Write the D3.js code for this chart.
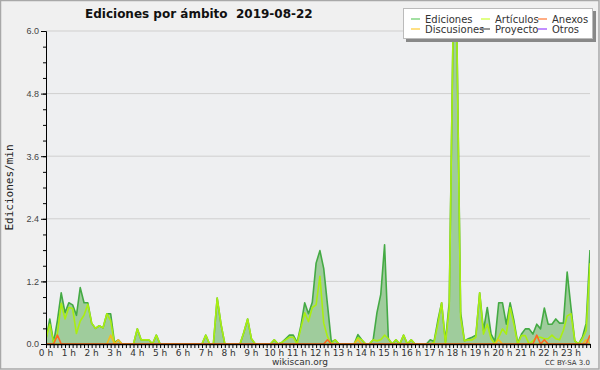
<!DOCTYPE html>
<html>
<head>
<meta charset="utf-8">
<script src="https://cdn.jsdelivr.net/npm/d3@7"></script>
<style>
  body { margin: 0; background: #fff; }
  svg { display: block; }
</style>
</head>
<body>
<div id="chart"></div>
<script>
// one value every 10 minutes, 00:00 .. 23:50 (144 points), edits per minute
const title = "Ediciones por ámbito  2019-08-22";
const hourLabels = d3.range(24).map(h => h + " h");
const yTicks = [0.0, 1.2, 2.4, 3.6, 4.8, 6.0];

const ediciones = [
  0.1, 0.48, 0.03, 0.45, 0.98, 0.6, 0.79, 0.75, 0.55, 1.08, 0.79, 0.79,
  0.4, 0.3, 0.35, 0.31, 0.58, 0.58, 0.03, 0.08, 0, 0, 0, 0,
  0.29, 0.08, 0.08, 0.08, 0, 0.17, 0, 0, 0, 0, 0, 0,
  0, 0, 0, 0, 0, 0, 0.17, 0, 0, 0.88, 0.38, 0,
  0, 0, 0, 0, 0.22, 0.48, 0.1, 0, 0, 0, 0, 0,
  0.08, 0, 0.03, 0.1, 0.17, 0.17, 0.03, 0.35, 0.79, 0.58, 0.8, 1.55,
  1.79, 1.45, 0.75, 0.04, 0.08, 0, 0, 0, 0, 0, 0.18, 0.08,
  0, 0, 0.08, 0.6, 0.95, 1.9, 0.1, 0, 0.08, 0, 0.17, 0,
  0.08, 0, 0, 0, 0, 0.08, 0.05, 0.45, 0.79, 0.05, 0.8, 6.0,
  6.0, 0.6, 0.06, 0.1, 0.13, 0.17, 0.98, 0.26, 0.7, 0.19, 0.05, 0.79,
  0.79, 0.38, 0.79, 0.45, 0.02, 0.19, 0.29, 0.29, 0.19, 0.38, 0.29, 0.69,
  0.38, 0.38, 0.48, 0.4, 0.4, 1.38, 0.7, 0.06, 0, 0.13, 0.4, 1.8
];
const articulos = [
  0.1, 0.38, 0.02, 0.2, 0.78, 0.48, 0.7, 0.68, 0.2, 0.44, 0.55, 0.76,
  0.4, 0.3, 0.35, 0.31, 0.58, 0.45, 0, 0, 0, 0, 0, 0,
  0.29, 0.08, 0.08, 0.08, 0, 0.17, 0, 0, 0, 0, 0, 0,
  0, 0, 0, 0, 0, 0, 0.17, 0, 0, 0.88, 0.38, 0,
  0, 0, 0, 0, 0.22, 0.48, 0.1, 0, 0, 0, 0, 0,
  0.08, 0, 0.03, 0.08, 0.13, 0.13, 0, 0.3, 0.6, 0.43, 0.7, 0.75,
  1.3, 0.4, 0.14, 0, 0.08, 0, 0, 0, 0, 0, 0.12, 0.08,
  0, 0, 0.08, 0.06, 0.08, 0.17, 0.1, 0, 0.08, 0, 0.17, 0,
  0.08, 0, 0, 0, 0, 0, 0.03, 0.38, 0.79, 0, 0.7, 6.0,
  5.9, 0.5, 0.06, 0.08, 0.08, 0.13, 0.98, 0.19, 0.38, 0.1, 0, 0.13,
  0.29, 0.19, 0.7, 0.38, 0, 0.16, 0.16, 0, 0.06, 0.13, 0.13, 0.1,
  0.1, 0.17, 0.1, 0.08, 0.26, 0.54, 0.58, 0.06, 0, 0.1, 0.26, 1.55
];
const anexos = [
  0, 0, 0, 0.17, 0, 0, 0, 0, 0, 0, 0, 0,
  0, 0, 0, 0, 0, 0, 0, 0, 0, 0, 0, 0,
  0, 0, 0, 0, 0, 0, 0, 0, 0, 0, 0, 0,
  0, 0, 0, 0, 0, 0, 0, 0, 0, 0, 0, 0,
  0, 0, 0, 0, 0, 0, 0, 0, 0, 0, 0, 0,
  0, 0, 0, 0, 0, 0, 0, 0, 0, 0, 0, 0,
  0, 0, 0.08, 0, 0, 0, 0, 0, 0, 0, 0, 0,
  0, 0, 0, 0, 0, 0, 0, 0, 0, 0, 0, 0,
  0, 0, 0, 0, 0, 0, 0, 0, 0, 0, 0, 0,
  0, 0, 0, 0, 0, 0, 0, 0, 0, 0, 0, 0,
  0, 0, 0, 0, 0, 0, 0, 0, 0, 0.17, 0, 0.08,
  0, 0, 0, 0, 0, 0, 0, 0, 0, 0, 0, 0.17
];
const discusiones = [
  0, 0, 0, 0, 0, 0, 0, 0, 0, 0, 0, 0,
  0, 0, 0, 0, 0, 0.17, 0, 0.08, 0, 0, 0, 0,
  0, 0, 0, 0, 0, 0, 0, 0, 0, 0, 0, 0,
  0, 0, 0, 0, 0, 0, 0, 0, 0, 0, 0, 0,
  0, 0, 0, 0, 0, 0, 0, 0, 0, 0, 0, 0,
  0, 0, 0, 0, 0, 0, 0, 0, 0, 0, 0, 0,
  0, 0, 0, 0, 0, 0, 0, 0, 0, 0, 0.08, 0,
  0, 0, 0, 0, 0, 0, 0, 0, 0, 0, 0, 0,
  0, 0, 0, 0, 0, 0, 0, 0, 0, 0, 0, 0,
  0, 0, 0, 0, 0, 0, 0, 0, 0, 0, 0, 0.08,
  0, 0, 0, 0, 0, 0, 0, 0, 0, 0, 0, 0,
  0, 0, 0, 0, 0, 0, 0, 0, 0, 0, 0.08, 0
];

const legendNames = ["Ediciones", "Artículos", "Anexos", "Discusiones", "Proyecto", "Otros"];
const legendColors = ["#66cc66", "#ccff33", "#ff7733", "#ffcc33", "#555555", "#9944ff"];

const W = 600, H = 370;
const margin = {top: 31, right: 10, bottom: 26, left: 46};

const svg = d3.select("#chart").append("svg")
  .attr("width", W).attr("height", H)
  .style("font-family", "'DejaVu Sans', sans-serif");

// page background + border
svg.append("rect").attr("x", 0.5).attr("y", 0.5).attr("width", W - 1.5).attr("height", H - 1.5)
  .attr("fill", "#f0f0f0").attr("stroke", "#a8a8a8").attr("stroke-width", 1.5);

const x = d3.scaleLinear().domain([0, 143]).range([margin.left, W - margin.right]);
const y = d3.scaleLinear().domain([0, 6]).range([H - margin.bottom, margin.top]);

// plot background
svg.append("rect")
  .attr("x", x(0)).attr("y", y(6))
  .attr("width", x(143) - x(0)).attr("height", y(0) - y(6))
  .attr("fill", "#eeeff1");

// grid lines
svg.append("g").selectAll("line")
  .data(yTicks.slice(1))
  .join("line")
    .attr("x1", x(0)).attr("x2", x(143))
    .attr("y1", d => y(d)).attr("y2", d => y(d))
    .attr("stroke", "#cfcfcf").attr("stroke-width", 1);

svg.append("defs").append("clipPath").attr("id", "clip")
  .append("rect").attr("x", x(0)).attr("y", y(6)).attr("width", x(143) - x(0)).attr("height", y(0) - y(6));

const plot = svg.append("g").attr("clip-path", "url(#clip)");

// filled area under the total
plot.append("path")
  .datum(ediciones)
  .attr("fill", "#9fcc9c")
  .attr("d", d3.area().x((d, i) => x(i)).y0(y(0)).y1(d => y(d)));

const line = d3.line().x((d, i) => x(i)).y(d => y(d));
const series = [
  {values: ediciones, color: "#44aa44"},
  {values: articulos, color: "#aaee11"},
  {values: discusiones, color: "#f0c020"},
  {values: anexos, color: "#ff6622"}
];
series.forEach(s => {
  plot.append("path")
    .datum(s.values)
    .attr("fill", "none")
    .attr("stroke", s.color)
    .attr("stroke-width", 1.6)
    .attr("stroke-linejoin", "round")
    .attr("d", line);
});

// y axis
const yAxis = svg.append("g")
  .attr("transform", `translate(${x(0)},0)`)
  .call(d3.axisLeft(y).tickValues(yTicks).tickFormat(d3.format(".1f")).tickSize(5).tickPadding(2));
yAxis.select(".domain").attr("stroke", "#000");
yAxis.selectAll("text").attr("fill", "#444").style("font-size", "9px");
svg.append("g")
  .attr("transform", `translate(${x(0)},0)`)
  .call(d3.axisLeft(y).tickValues(d3.range(0, 6.01, 0.3)).tickFormat("").tickSize(3))
  .select(".domain").remove();

// x axis
const xAxis = svg.append("g")
  .attr("transform", `translate(0,${y(0)})`)
  .call(d3.axisBottom(x).tickValues(d3.range(0, 144)).tickFormat("").tickSize(4).tickSizeOuter(0));
xAxis.select(".domain").attr("stroke", "#000").attr("stroke-width", 1.5);
svg.append("g").selectAll("text")
  .data(hourLabels)
  .join("text")
    .attr("x", (d, i) => x(i * 6))
    .attr("y", y(0) + 12)
    .attr("text-anchor", "middle")
    .attr("fill", "#333")
    .style("font-size", "9px")
    .text(d => d);

// titles
svg.append("text")
  .attr("x", 85).attr("y", 18)
  .style("font-size", "12px").style("font-weight", "bold")
  .attr("fill", "#111")
  .attr("xml:space", "preserve")
  .text(title);

svg.append("text")
  .attr("transform", `translate(13,${(y(0) + y(6)) / 2}) rotate(-90)`)
  .attr("text-anchor", "middle")
  .style("font-family", "'DejaVu Sans Mono', monospace")
  .style("font-size", "11px")
  .attr("fill", "#222")
  .text("Ediciones/min");

svg.append("text")
  .attr("x", 300).attr("y", 365).attr("text-anchor", "middle")
  .style("font-size", "9px").attr("fill", "#333").text("wikiscan.org");
svg.append("text")
  .attr("x", 590).attr("y", 365).attr("text-anchor", "end")
  .style("font-size", "7px").attr("fill", "#333").text("CC BY-SA 3.0");

// legend
const lg = svg.append("g").attr("transform", "translate(403,8)");
lg.append("rect").attr("x", 3).attr("y", 3).attr("width", 190).attr("height", 31).attr("fill", "#888");
lg.append("rect").attr("x", 0.5).attr("y", 0.5).attr("width", 189).attr("height", 30)
  .attr("fill", "#fff").attr("stroke", "#bbb");
const colX = [8, 78, 135];
const item = lg.selectAll(".legend-item")
  .data(legendNames)
  .join("g")
    .attr("class", "legend-item")
    .attr("transform", (d, i) => `translate(${colX[i % 3]},${Math.floor(i / 3) * 10 + 11})`);
item.append("line")
  .attr("x1", 0).attr("x2", 9).attr("y1", 0).attr("y2", 0)
  .attr("stroke", (d, i) => legendColors[i]).attr("stroke-width", 1.2);
item.append("text")
  .attr("x", 14).attr("y", 3.5)
  .style("font-size", "10px").attr("fill", "#333")
  .text(d => d);
</script>
</body>
</html>
